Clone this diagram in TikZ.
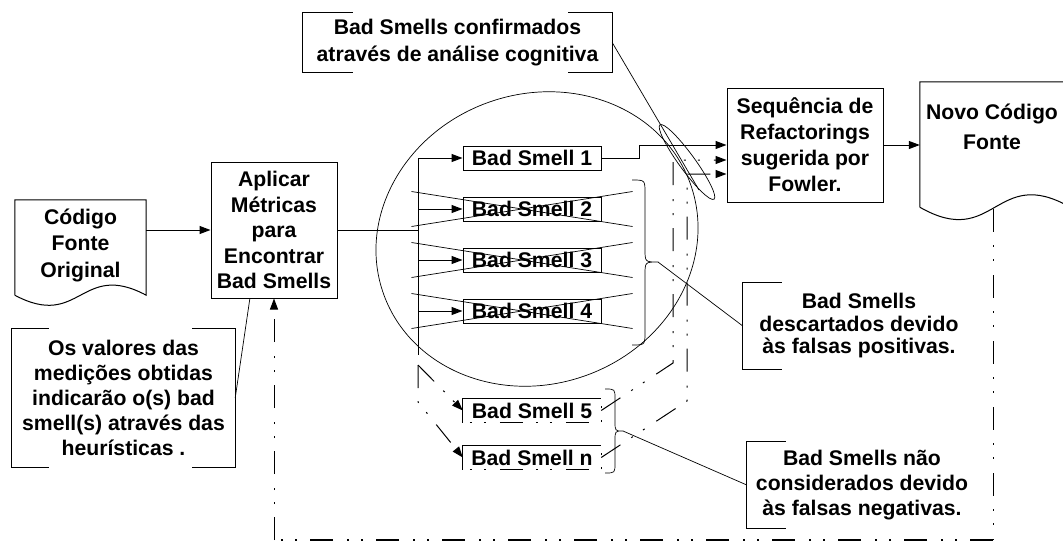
\documentclass[tikz,border=0pt]{standalone}
\usepackage{fontspec}
\setmainfont{Liberation Sans}
\usetikzlibrary{arrows.meta,calc}
\begin{document}
\begin{tikzpicture}[x=1pt,y=-1pt]
\tikzset{
  txt/.style={font=\bfseries\fontsize{21.2pt}{#1}\selectfont, align=center, inner sep=0pt},
  txt/.default=25pt,
  conn/.style={line width=1pt},
  thinln/.style={line width=0.7pt},
  boxed/.style={draw, line width=1pt},
  bsbox/.style={txt, minimum width=138pt, minimum height=24pt},
  arw/.style={-{Triangle[length=11pt,width=8pt]}},
  dd/.style={line width=1pt, dash pattern=on 23pt off 13pt on 2pt off 12pt on 2pt off 14pt},
  ddbox/.style={line width=1pt, dash pattern=on 23pt off 13pt on 2pt off 12pt on 2pt off 14pt, dash phase=29pt},
}
\useasboundingbox (0,0) rectangle (1063,543);

% ---- Codigo Fonte Original (document shape)
\node[minimum width=131pt, minimum height=95pt, inner sep=0pt] (codf) at (80.5,247.5) {};
\node[txt=26.5pt] (cod) at (80.5,245) {Código\\Fonte\\Original};
\draw[conn] (codf.south west) -- (codf.north west) -- (codf.north east) -- (codf.south east)
  .. controls +(-65.5,-35) and +(65.5,35) .. (codf.south west);

% ---- Aplicar Metricas
\node[txt=25.5pt, boxed, minimum width=126pt, minimum height=136pt] (apl) at (274,230)
  {Aplicar\\Métricas\\para\\Encontrar\\Bad Smells};

% ---- Sequencia de Refactorings
\node[txt=26pt, boxed, minimum width=156pt, minimum height=114pt] (seq) at (805,145)
  {Sequência de\\Refactorings\\sugerida por\\Fowler.};

% ---- Novo Codigo Fonte (document shape)
\node[minimum width=150pt, minimum height=125pt, inner sep=0pt] (novof) at (995,144.5) {};
\node[txt=30pt] (novo) at (992,127) {Novo Código\\Fonte};
\draw[conn] (novof.south west) -- (novof.north west) -- (novof.north east) -- (novof.south east)
  .. controls +(-75,-43) and +(75,43) .. (novof.south west);

% ---- Bad smell boxes
\foreach \i/\y in {1/158,2/209,3/260,4/311}
  \node[bsbox, boxed] (bs\i) at (532,\y) {Bad Smell \i};
\node[bsbox] (bs5) at (532,410.5) {Bad Smell 5};
\node[bsbox] (bsn) at (532,457.5) {Bad Smell n};
\draw[conn] (bs5.south west) -- (bs5.north west) -- (bs5.north east);
\draw[ddbox] (bs5.south west) -- (bs5.south east) -- (bs5.north east);
\draw[conn] (bsn.south west) -- (bsn.north west) -- (bsn.north east);
\draw[ddbox] (bsn.south west) -- (bsn.south east) -- (bsn.north east);

% ---- trunk and branches
\coordinate (trunk) at (418,230);
\coordinate (tend) at (418,332);
\coordinate (fork) at (418,365);
\coordinate (fork2) at (418,402);
\draw[conn] (apl.east) -- (trunk);
\draw[conn] (trunk |- bs1.west) -- (tend);
\foreach \i in {1,2,3,4}
  \draw[conn, arw] (trunk |- bs\i.west) -- (bs\i.west);
\draw[dd] (tend) -- (fork);
\draw[dd, arw] (fork) -- (bs5.west);
\draw[dd, arw] (fork) -- (fork2) -- (bsn.west);

% ---- crosses over discarded smells
\foreach \i in {2,3,4} {
  \draw[thinln] ($(bs\i.west)+(-51,-17.5)$) -- ($(bs\i.east)+(31,17.5)$);
  \draw[thinln] ($(bs\i.west)+(-51,17.5)$) -- ($(bs\i.east)+(31,-17.5)$);
}

% ---- braces
\coordinate (br1) at (658,262);
\draw[thinln] (632,180) .. controls (645,180) .. (645,193) -- (645,249)
  .. controls (645,262) .. (br1) .. controls (645,262) .. (645,275) -- (645,332)
  .. controls (645,345) .. (632,345);
\coordinate (br2) at (623,431);
\draw[thinln] (605,389) .. controls (615,389) .. (615,399) -- (615,421)
  .. controls (615,431) .. (br2) .. controls (615,431) .. (615,441) -- (615,463)
  .. controls (615,473) .. (605,473);

% ---- connections to Sequencia
\coordinate (up5) at (673,363);
\coordinate (upn) at (687,401);
\draw[conn, arw] (bs1.east) -- ++(38,0) |- (seq.west);
\draw[dd, arw] (bs5.east) -- (up5) |- ($(seq.west)+(0,15)$);
\draw[dd, arw] (bsn.east) -- (upn) |- ($(seq.west)+(0,29)$);
\draw[conn, arw] (seq.east) -- (seq.east -| novof.west);

% ---- main input
\draw[conn, arw] (codf.east |- apl.west) -- (apl.west);

% ---- feedback loop
\coordinate (fb) at (993,209);
\coordinate (fbc) at (993,540);
\draw[dd] (fb) -- (fbc);
\draw[dd, line width=1.8pt] (fbc) -- (fbc -| apl.south);
\draw[dd, arw] (fbc -| apl.south) -- (apl.south);

% ---- big ellipse
\begin{scope}[shift={(537,239)}, rotate=20]
  \draw[thinln] (0,0) ellipse [x radius=163pt, y radius=145pt];
\end{scope}

% ---- small oval
\begin{scope}[shift={(687,162)}, rotate=-54]
  \draw[thinln] (0,0) ellipse [x radius=46pt, y radius=8pt];
\end{scope}

% ---- callouts
\node[txt=27pt, minimum width=309pt, minimum height=59pt] (conf) at (457.5,42.5)
  {Bad Smells confirmados\\através de análise cognitiva};
\draw[conn] ($(conf.north west)+(50,0)$) -- (conf.north west) -- (conf.south west) -- ++(50,0);
\draw[conn] ($(conf.north east)+(-44,0)$) -- (conf.north east) -- (conf.south east) -- ++(-44,0);
\coordinate (ovin) at (699,190);
\draw[thinln] (conf.east) -- (ovin);

\node[txt=25pt, minimum width=223pt, minimum height=138pt] (obs) at (123.5,398)
  {Os valores das\\medições obtidas\\indicarão o(s) bad\\smell(s) através das\\heurísticas .};
\draw[conn] ($(obs.north west)+(37,0)$) -- (obs.north west) -- (obs.south west) -- ++(37,0);
\draw[conn] ($(obs.north east)+(-43,0)$) -- (obs.north east) -- (obs.south east) -- ++(-43,0);
\draw[thinln] (obs.east) -- ($(apl.south west)!0.31!(apl.south east)$);

\node[txt=22.5pt, minimum width=232pt, minimum height=86pt] (desc) at (859,326)
  {Bad Smells\\descartados devido\\às falsas positivas.};
\draw[conn] ($(desc.north west)+(39,0)$) -- (desc.north west) -- (desc.south west) -- ++(39,0);
\draw[thinln] (br1) -- (desc.west);

\node[txt=25pt, minimum width=230pt, minimum height=86pt] (nao) at (862,485)
  {Bad Smells não\\considerados devido\\às falsas negativas.};
\draw[conn] ($(nao.north west)+(39,0)$) -- (nao.north west) -- (nao.south west) -- ++(39,0);
\draw[thinln] (br2) -- (nao.west);
\end{tikzpicture}
\end{document}
